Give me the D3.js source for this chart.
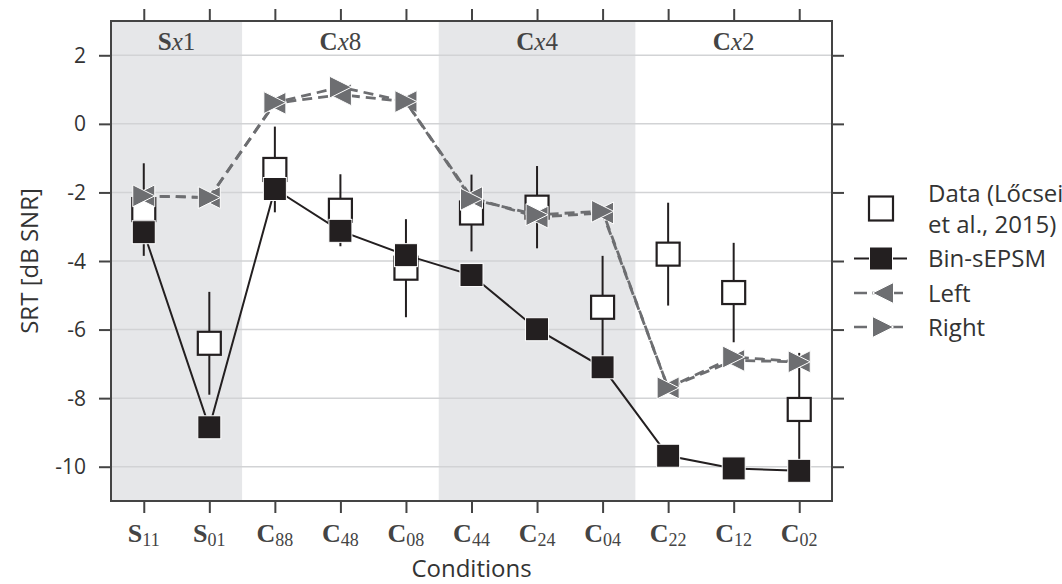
<!DOCTYPE html>
<html>
<head>
<meta charset="utf-8">
<script src="https://cdn.jsdelivr.net/npm/d3@7"></script>
<style>
  body { margin: 0; background: #fff; }
  svg { display: block; }
  .sans { font-family: "Open Sans", "Noto Sans", sans-serif; fill: #333; }
  .serif { font-family: "Liberation Serif", "DejaVu Serif", serif; fill: #444; }
</style>
</head>
<body>
<script>
// conditions on the x axis (bold letter + subscript)
var tickMain = ["S", "S", "C", "C", "C", "C", "C", "C", "C", "C", "C"];
var tickSub = ["11", "01", "88", "48", "08", "44", "24", "04", "22", "12", "02"];

// group headers across the top
var groupLetter = ["S", "C", "C", "C"];
var groupNum = ["1", "8", "4", "2"];
var groupFirst = [0, 2, 5, 8];
var groupLast = [1, 4, 7, 10];
var groupShaded = [true, false, true, false];

// SRT values, dB SNR
var dataMean = [-2.5, -6.4, -1.33, -2.52, -4.21, -2.6, -2.43, -5.35, -3.8, -4.92, -8.33];
var dataErr = [1.35, 1.5, 1.25, 1.05, 1.43, 1.12, 1.2, 1.5, 1.5, 1.45, 1.65];
var binSEPSM = [-3.16, -8.85, -1.9, -3.12, -3.83, -4.41, -5.99, -7.1, -9.68, -10.05, -10.12];
var leftEar = [-2.1, -2.15, 0.6, 0.85, 0.65, -2.15, -2.72, -2.6, -7.7, -6.9, -6.94];
var rightEar = [-2.1, -2.15, 0.62, 1.07, 0.65, -2.2, -2.65, -2.55, -7.7, -6.8, -6.94];

var yTicks = [2, 0, -2, -4, -6, -8, -10];

var width = 1062, height = 584;
var m = {left: 111, right: 230, top: 21, bottom: 83};

var svg = d3.select("body").append("svg")
  .attr("width", width)
  .attr("height", height);

var x = d3.scaleLinear().domain([-0.5, 10.5]).range([m.left, width - m.right]);
var y = d3.scaleLinear().domain([-11, 3]).range([height - m.bottom, m.top]);

var idx = d3.range(tickSub.length);

// shaded groups
svg.selectAll("rect.shade")
  .data(groupFirst.filter(function(d, i) { return groupShaded[i]; }))
  .enter().append("rect")
  .attr("x", function(d) { return x(d - 0.5); })
  .attr("y", m.top)
  .attr("width", function(d) { return x(groupLast[groupFirst.indexOf(d)] + 0.5) - x(d - 0.5); })
  .attr("height", y(-11) - y(3))
  .attr("fill", "#e6e7e9");

// grid
svg.selectAll("line.grid")
  .data(yTicks)
  .enter().append("line")
  .attr("x1", x(-0.5)).attr("x2", x(10.5))
  .attr("y1", function(d) { return y(d); })
  .attr("y2", function(d) { return y(d); })
  .attr("stroke", "#d2d3d5")
  .attr("stroke-width", 1.5);

// group headers
var gh = svg.selectAll("text.group")
  .data(groupLetter)
  .enter().append("text")
  .attr("class", "serif")
  .attr("x", function(d, i) { return x((groupFirst[i] + groupLast[i]) / 2); })
  .attr("y", 50)
  .attr("text-anchor", "middle")
  .style("font-size", "25px");
gh.append("tspan").attr("font-weight", "bold").text(function(d) { return d; });
gh.append("tspan").attr("font-style", "italic").text("x");
gh.append("tspan").text(function(d, i) { return groupNum[i]; });

// axes: ticks outside on all four sides
var tickLen = 12;
svg.append("g")
  .attr("transform", "translate(0," + y(-11) + ")")
  .call(d3.axisBottom(x).tickValues(idx).tickSize(tickLen).tickFormat(""));
svg.append("g")
  .attr("transform", "translate(0," + y(3) + ")")
  .call(d3.axisTop(x).tickValues(idx).tickSize(tickLen).tickFormat(""));
svg.append("g")
  .attr("transform", "translate(" + x(-0.5) + ",0)")
  .call(d3.axisLeft(y).tickValues(yTicks).tickSize(tickLen).tickFormat(""));
svg.append("g")
  .attr("transform", "translate(" + x(10.5) + ",0)")
  .call(d3.axisRight(y).tickValues(yTicks).tickSize(tickLen).tickFormat(""));
svg.selectAll(".domain").remove();
svg.selectAll(".tick line").attr("stroke", "#444").attr("stroke-width", 2);

// frame
svg.append("rect")
  .attr("x", x(-0.5)).attr("y", y(3))
  .attr("width", x(10.5) - x(-0.5)).attr("height", y(-11) - y(3))
  .attr("fill", "none").attr("stroke", "#444").attr("stroke-width", 2);

// y tick labels
svg.selectAll("text.ylab")
  .data(yTicks)
  .enter().append("text")
  .attr("class", "sans")
  .attr("x", x(-0.5) - 25)
  .attr("y", function(d) { return y(d); })
  .attr("dy", "0.36em")
  .attr("text-anchor", "end")
  .style("font-size", "21px")
  .text(function(d) { return d; });

// x tick labels
var xl = svg.selectAll("text.xlab")
  .data(idx)
  .enter().append("text")
  .attr("class", "serif")
  .attr("x", function(d) { return x(d); })
  .attr("y", 542)
  .attr("text-anchor", "middle")
  .style("font-size", "26px");
xl.append("tspan").attr("font-weight", "bold").text(function(d) { return tickMain[d]; });
xl.append("tspan").attr("dy", 4).style("font-size", "18px").text(function(d) { return tickSub[d]; });

// axis titles
svg.append("text")
  .attr("class", "sans")
  .attr("x", (x(-0.5) + x(10.5)) / 2)
  .attr("y", 577)
  .attr("text-anchor", "middle")
  .style("font-size", "24px")
  .text("Conditions");
svg.append("text")
  .attr("class", "sans")
  .attr("transform", "translate(38," + ((y(3) + y(-11)) / 2) + ")rotate(-90)")
  .attr("text-anchor", "middle")
  .style("font-size", "24px")
  .text("SRT [dB SNR]");

// marker helpers
function tri(dir, s) {
  var h = s / 2;
  return dir === "left"
    ? "M" + (-h) + ",0L" + h + "," + (-h) + "L" + h + "," + h + "Z"
    : "M" + h + ",0L" + (-h) + "," + (-h) + "L" + (-h) + "," + h + "Z";
}

// data: error bars + open squares
svg.selectAll("line.err")
  .data(idx)
  .enter().append("line")
  .attr("x1", function(d) { return x(d); })
  .attr("x2", function(d) { return x(d); })
  .attr("y1", function(d) { return y(dataMean[d] + dataErr[d]); })
  .attr("y2", function(d) { return y(dataMean[d] - dataErr[d]); })
  .attr("stroke", "#231f20").attr("stroke-width", 2);
svg.selectAll("rect.data")
  .data(idx)
  .enter().append("rect")
  .attr("x", function(d) { return x(d) - 11.5; })
  .attr("y", function(d) { return y(dataMean[d]) - 11.5; })
  .attr("width", 23).attr("height", 23)
  .attr("fill", "#fff").attr("stroke", "#231f20").attr("stroke-width", 2.2);

// Bin-sEPSM
var line = d3.line().x(function(d) { return x(d[0]); }).y(function(d) { return y(d[1]); });
svg.append("path")
  .attr("d", line(idx.map(function(i) { return [i, binSEPSM[i]]; })))
  .attr("fill", "none").attr("stroke", "#231f20").attr("stroke-width", 2);
svg.selectAll("rect.bin")
  .data(idx)
  .enter().append("rect")
  .attr("x", function(d) { return x(d) - 11.5; })
  .attr("y", function(d) { return y(binSEPSM[d]) - 11.5; })
  .attr("width", 23).attr("height", 23)
  .attr("fill", "#231f20").attr("stroke", "#fff").attr("stroke-width", 1);

// Left / Right ears
var earGray = "#6d6e71";
function drawEar(vals, dir, dash) {
  svg.append("path")
    .attr("d", line(idx.map(function(i) { return [i, vals[i]]; })))
    .attr("fill", "none").attr("stroke", earGray).attr("stroke-width", 2.8)
    .attr("stroke-dasharray", dash);
  svg.selectAll(null)
    .data(idx)
    .enter().append("path")
    .attr("transform", function(d) { return "translate(" + x(d) + "," + y(vals[d]) + ")"; })
    .attr("d", tri(dir, 22))
    .attr("fill", earGray).attr("stroke", "#fff").attr("stroke-width", 1);
}
drawEar(leftEar, "left", "10,6");
drawEar(rightEar, "right", "10,6");

// legend
var lx = 881, lt = 928;
var leg = svg.append("g");
leg.append("rect").attr("x", lx - 12).attr("y", 208.5 - 12).attr("width", 24).attr("height", 24)
  .attr("fill", "#fff").attr("stroke", "#231f20").attr("stroke-width", 2.2);
leg.append("line").attr("x1", 854).attr("x2", 907).attr("y1", 258.5).attr("y2", 258.5)
  .attr("stroke", "#231f20").attr("stroke-width", 2);
leg.append("rect").attr("x", lx - 11.5).attr("y", 258.5 - 11.5).attr("width", 23).attr("height", 23)
  .attr("fill", "#231f20").attr("stroke", "#fff").attr("stroke-width", 1);
leg.append("line").attr("x1", 854).attr("x2", 907).attr("y1", 293).attr("y2", 293)
  .attr("stroke", earGray).attr("stroke-width", 2.6).attr("stroke-dasharray", "13,5");
leg.append("path").attr("transform", "translate(" + (lx + 2) + ",293)").attr("d", tri("left", 21))
  .attr("fill", earGray).attr("stroke", "#fff").attr("stroke-width", 1);
leg.append("line").attr("x1", 854).attr("x2", 907).attr("y1", 327).attr("y2", 327)
  .attr("stroke", earGray).attr("stroke-width", 2.6).attr("stroke-dasharray", "13,5");
leg.append("path").attr("transform", "translate(" + (lx + 2) + ",327)").attr("d", tri("right", 21))
  .attr("fill", earGray).attr("stroke", "#fff").attr("stroke-width", 1);

var legText = [["Data (Lőcsei", 202], ["et al., 2015)", 233], ["Bin-sEPSM", 267], ["Left", 302], ["Right", 336]];
leg.selectAll("text")
  .data(legText)
  .enter().append("text")
  .attr("class", "sans")
  .attr("x", lt)
  .attr("y", function(d) { return d[1]; })
  .style("font-size", "24px")
  .text(function(d) { return d[0]; });
</script>
</body>
</html>
